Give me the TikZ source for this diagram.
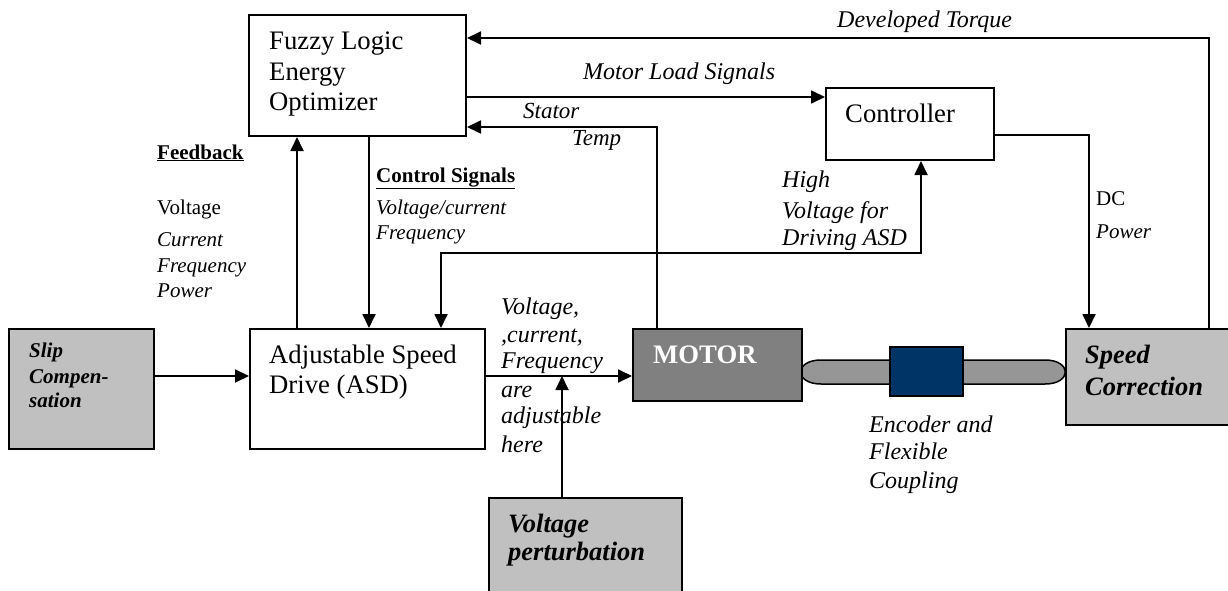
\documentclass[tikz,border=0pt]{standalone}
\usepackage{fontspec}
\setmainfont{Liberation Serif}
\usetikzlibrary{arrows.meta}
\definecolor{lgrey}{RGB}{192,192,192}
\definecolor{mgrey}{RGB}{128,128,128}
\definecolor{cgrey}{RGB}{150,150,150}
\definecolor{navy}{RGB}{0,51,102}
\tikzset{
  box/.style={draw, line width=2pt, inner sep=0pt, anchor=north west},
  conn/.style={line width=1.8pt, -{Triangle[length=14pt,width=13pt]}},
  conn2/.style={line width=1.8pt, {Triangle[length=14pt,width=13pt]}-{Triangle[length=14pt,width=13pt]}},
  plain/.style={line width=1.8pt},
  big/.style={anchor=base west, inner sep=0pt, font=\fontsize{26.7}{30}\selectfont},
  bigbi/.style={anchor=base west, inner sep=0pt, font=\fontsize{26.5}{30}\selectfont\bfseries\itshape},
  lab/.style={anchor=base west, inner sep=0pt, font=\fontsize{24}{28}\selectfont\itshape},
  small/.style={anchor=base west, inner sep=0pt, font=\fontsize{21}{25}\selectfont},
  smalli/.style={anchor=base west, inner sep=0pt, font=\fontsize{21}{25}\selectfont\itshape},
  smallb/.style={anchor=base west, inner sep=0pt, font=\fontsize{21}{25}\selectfont\bfseries},
  smallbi/.style={anchor=base west, inner sep=0pt, font=\fontsize{21}{25}\selectfont\bfseries\itshape},
}
\begin{document}
\begin{tikzpicture}[x=1pt,y=-1pt]
\clip (0,0) rectangle (1228,591);
\fill[white] (0,0) rectangle (1228,591);

% coupling shaft
\draw[line width=1.5pt, fill=cgrey] (821,360) -- (1045,360) .. controls (1072,360) and (1072,384) .. (1045,384) -- (821,384) .. controls (794,384) and (794,360) .. (821,360) -- cycle;

% boxes
\node[box, minimum width=217pt, minimum height=121pt] (fuzzy) at (248,14) {};
\node[box, minimum width=168pt, minimum height=72pt] (ctrl) at (825,87) {};
\node[box, minimum width=235pt, minimum height=120pt] (asd) at (249,328) {};
\node[box, fill=lgrey, minimum width=145pt, minimum height=120pt] (slip) at (8,328) {};
\node[box, fill=mgrey, minimum width=169pt, minimum height=72pt] (motor) at (632,328) {};
\node[box, fill=lgrey, minimum width=175pt, minimum height=96pt] (spd) at (1065,328) {};
\node[box, fill=lgrey, minimum width=193pt, minimum height=110pt] (pert) at (488,497) {};
\node[box, fill=navy, minimum width=73pt, minimum height=49pt] (enc) at (889,346) {};

% helper coordinates
\coordinate (tq) at (1209,38);
\coordinate (ml) at (600,97);
\coordinate (st) at (657,127);
\coordinate (fb) at (297,200);
\coordinate (cs) at (369,200);
\coordinate (hv1) at (921,253);
\coordinate (hv2) at (441,253);
\coordinate (dc) at (1089,135);
\coordinate (sl) at (200,376);
\coordinate (am) at (550,376);
\coordinate (vp) at (562,376);

% connectors
\draw[conn] (spd.north -| tq) -- (tq) -- (tq -| fuzzy.east);
\draw[conn] (ml -| fuzzy.east) -- (ml -| ctrl.west);
\draw[conn] (motor.north -| st) -- (st) -- (st -| fuzzy.east);
\draw[conn] (asd.north -| fb) -- (fuzzy.south -| fb);
\draw[conn] (fuzzy.south -| cs) -- (asd.north -| cs);
\draw[conn2] (asd.north -| hv2) -- (hv2) -- (hv1) -- (ctrl.south -| hv1);
\draw[conn] (ctrl.east |- dc) -- (dc) -- (spd.north -| dc);
\draw[conn] (sl -| slip.east) -- (sl -| asd.west);
\draw[conn] (am -| asd.east) -- (am -| motor.west);
\draw[conn] (pert.north -| vp) -- (vp);

% box texts
\node[big] (t1) at (269,50) {Fuzzy Logic};
\node[big] (t2) at (269,81) {Energy};
\node[big] (t3) at (269,111) {Optimizer};
\node[big] (t4) at (845,123) {Controller};
\node[big] (t5) at (269,363) {Adjustable Speed};
\node[big] (t6) at (269,393) {Drive (ASD)};
\node[big, font=\fontsize{26.7}{30}\selectfont\bfseries, text=white] (t7) at (653,363) {MOTOR};
\node[bigbi] (t8) at (1085,363) {Speed};
\node[bigbi] (t9) at (1085,395) {Correction};
\node[bigbi] (t10) at (508,532) {Voltage};
\node[bigbi] (t11) at (508,560) {perturbation};
\node[smallbi] (t12) at (29,357) {Slip};
\node[smallbi] (t13) at (29,383) {Compen-};
\node[smallbi] (t14) at (29,407) {sation};

% labels
\node[lab] (l1) at (837,28) {Developed Torque};
\node[lab] (l2) at (583,80) {Motor Load Signals};
\node[lab, font=\fontsize{23}{27}\selectfont\itshape] (l3) at (523,119) {Stator};
\node[lab, font=\fontsize{23}{27}\selectfont\itshape] (l4) at (572,146) {Temp};
\node[smallb] (l5) at (157,159) {\underline{Feedback}};
\node[small] (l6) at (157,214) {Voltage};
\node[smalli] (l7) at (157,246) {Current};
\node[smalli] (l8) at (157,272) {Frequency};
\node[smalli] (l9) at (157,297) {Power};
\node[smallb] (l10) at (376,182) {\underline{Control Signals}};
\node[smalli] (l11) at (376,214) {Voltage/current};
\node[smalli] (l12) at (376,239) {Frequency};
\node[lab] (l13) at (782,187) {High};
\node[lab] (l14) at (782,218) {Voltage for};
\node[lab] (l15) at (782,245) {Driving ASD};
\node[small] (l16) at (1096,205) {DC};
\node[smalli] (l17) at (1096,238) {Power};
\node[lab] (l18) at (501,314) {Voltage,};
\node[lab] (l19) at (501,342) {,current,};
\node[lab] (l20) at (501,368) {Frequency};
\node[lab] (l21) at (501,397) {are};
\node[lab] (l22) at (501,423) {adjustable};
\node[lab] (l23) at (501,452) {here};
\node[lab] (l24) at (869,432) {Encoder and};
\node[lab] (l25) at (869,459) {Flexible};
\node[lab] (l26) at (869,488) {Coupling};
\end{tikzpicture}
\end{document}
